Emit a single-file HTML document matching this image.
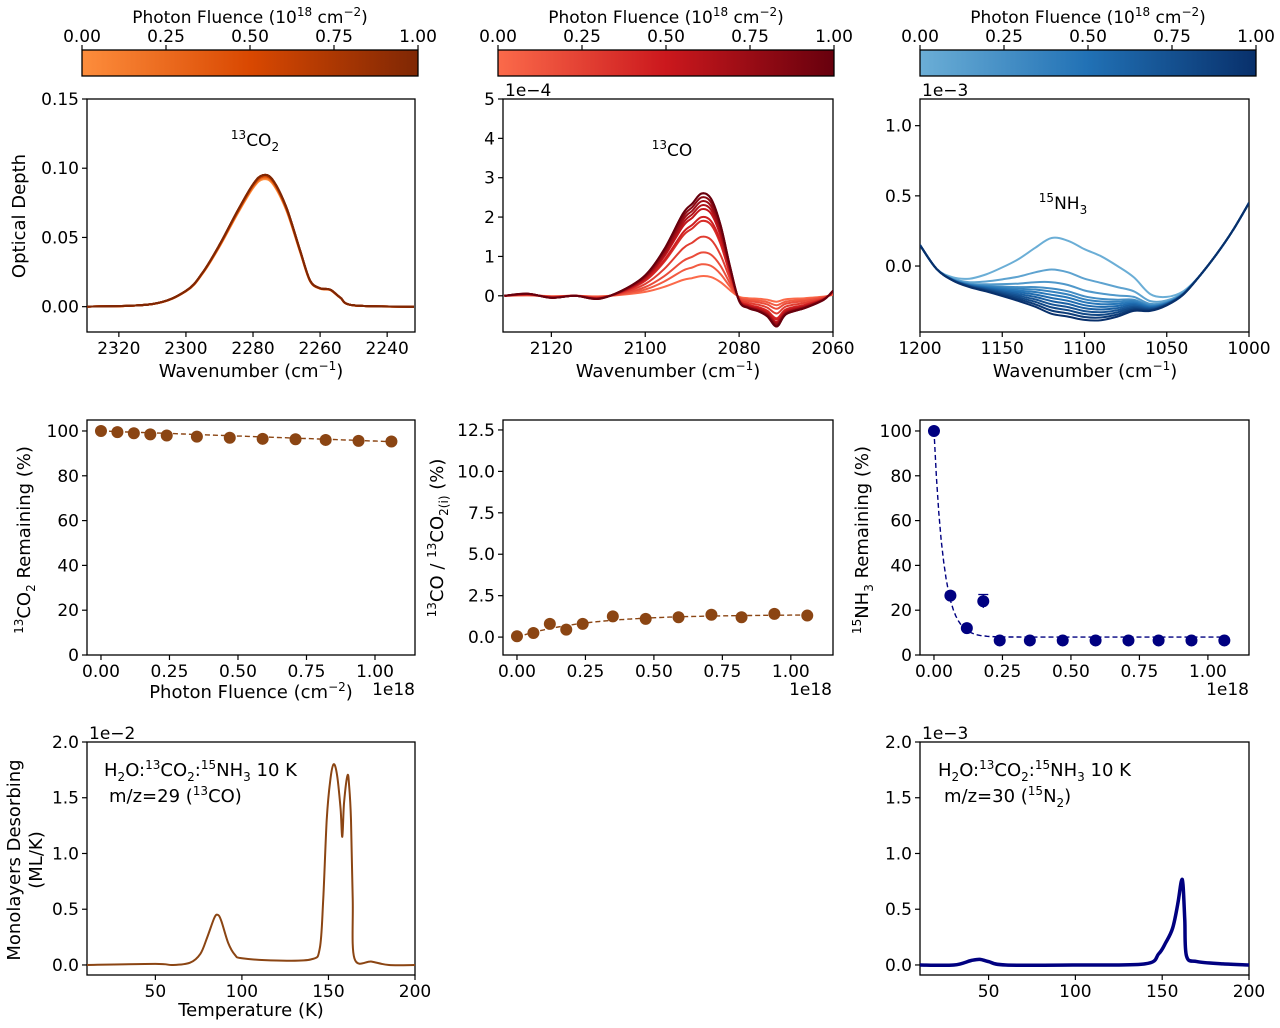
<!DOCTYPE html>
<html><head><meta charset="utf-8"><style>
html,body{margin:0;padding:0;background:#fff;}
svg{display:block;font-family:"DejaVu Sans","Liberation Sans",sans-serif;}
</style></head><body>
<svg id="fig" width="1280" height="1028" viewBox="0 0 1280 1028" xmlns="http://www.w3.org/2000/svg">
<defs>
<linearGradient id="gO" x1="0" x2="1" y1="0" y2="0"><stop offset="0" stop-color="#fd8d3c"/><stop offset="0.5" stop-color="#d94801"/><stop offset="1" stop-color="#7f2704"/></linearGradient>
<linearGradient id="gR" x1="0" x2="1" y1="0" y2="0"><stop offset="0" stop-color="#fb6a4a"/><stop offset="0.5" stop-color="#cb181d"/><stop offset="1" stop-color="#67000d"/></linearGradient>
<linearGradient id="gB" x1="0" x2="1" y1="0" y2="0"><stop offset="0" stop-color="#6baed6"/><stop offset="0.5" stop-color="#2171b5"/><stop offset="1" stop-color="#08306b"/></linearGradient>
</defs>
</svg>
<script>
// ---------- data ----------
const fluence = [0, 0.06, 0.12, 0.18, 0.24, 0.35, 0.47, 0.59, 0.71, 0.82, 0.94, 1.06];
const co2Remaining = [100, 99.5, 99, 98.5, 98, 97.5, 97, 96.5, 96.3, 96, 95.6, 95.3];
const coRatio = [0.05, 0.25, 0.8, 0.45, 0.8, 1.25, 1.1, 1.2, 1.35, 1.2, 1.4, 1.3];
const nh3Remaining = [100, 26.5, 12, 24, 6.5, 6.5, 6.5, 6.5, 6.5, 6.5, 6.5, 6.5];
const nh3Err = [0, 1.5, 1, 3, 0.5, 0.5, 0.5, 0.5, 0.5, 0.5, 0.5, 0.5];
const co2FitParams = [100, 4.5];        // start, linear drop over 1e18
const coFitParams = [1.35, 0.25];       // plateau, e-fold
const nh3FitParams = [92, 0.035, 8];    // amplitude, e-fold, plateau

const co2X = [2330, 2310, 2300, 2295, 2290, 2285, 2280, 2277, 2274, 2270, 2266, 2263, 2260, 2257, 2254, 2250, 2232];
const co2Shape = [0, 0.02, 0.12, 0.26, 0.47, 0.71, 0.93, 1.0, 0.96, 0.75, 0.43, 0.2, 0.14, 0.13, 0.07, 0.01, 0];
const co2Amp = [0.092, 0.093, 0.093, 0.094, 0.094, 0.094, 0.094, 0.095, 0.095, 0.095, 0.095, 0.095];

const coX = [2130, 2125, 2120, 2115, 2110, 2105, 2100, 2096, 2092, 2090, 2088, 2086, 2084, 2082, 2080, 2078, 2076, 2074, 2072, 2070, 2066, 2062, 2060];
const coShape = [0, 0.02, -0.02, 0, -0.03, 0.05, 0.2, 0.45, 0.8, 0.9, 1.0, 0.95, 0.7, 0.3, -0.05, -0.12, -0.15, -0.2, -0.3, -0.18, -0.12, -0.04, 0.05];
const coAmp = [0.5, 0.8, 1.1, 1.5, 1.9, 2.0, 2.2, 2.3, 2.4, 2.5, 2.6, 2.6];

const nhX = [1200, 1190, 1180, 1170, 1160, 1150, 1140, 1130, 1120, 1110, 1100, 1090, 1080, 1070, 1060, 1050, 1040, 1030, 1020, 1010, 1000];
const nhBase = [0.15, -0.02, -0.1, -0.14, -0.16, -0.18, -0.2, -0.22, -0.25, -0.27, -0.3, -0.31, -0.3, -0.28, -0.3, -0.27, -0.2, -0.07, 0.08, 0.25, 0.45];
const nhBump = [0, 0, 0.02, 0.05, 0.1, 0.17, 0.25, 0.35, 0.45, 0.45, 0.42, 0.38, 0.3, 0.2, 0.1, 0.05, 0.02, 0, 0, 0, 0];
const nhAmp = [1, 0.5, 0.3, 0.2, 0.15, 0.1, 0.05, 0, -0.05, -0.1, -0.15, -0.2];

const tpdCoT = [10, 50, 60, 70, 76, 80, 84, 86, 88, 92, 96, 100, 120, 140, 145, 147, 149, 151, 153, 155, 157, 158, 159, 161, 162, 163, 164, 165, 175, 185, 200];
const tpdCoV = [0, 0.01, 0, 0.02, 0.1, 0.25, 0.42, 0.45, 0.4, 0.2, 0.09, 0.06, 0.04, 0.05, 0.15, 0.6, 1.3, 1.65, 1.8, 1.7, 1.4, 1.15, 1.45, 1.7, 1.6, 1.3, 0.6, 0.06, 0.03, 0, 0];
const tpdN2T = [10, 30, 40, 45, 50, 60, 100, 140, 148, 152, 156, 159, 161, 162, 163, 164, 170, 185, 200];
const tpdN2V = [0, 0, 0.04, 0.05, 0.03, 0, 0, 0.01, 0.1, 0.2, 0.33, 0.55, 0.75, 0.72, 0.4, 0.08, 0.03, 0.01, 0];

const cbTicks = ["0.00", "0.25", "0.50", "0.75", "1.00"];

// ---------- helpers ----------
const svg = document.getElementById('fig');
const NS = 'http://www.w3.org/2000/svg';
function mk(tag, attrs, name, parent) {
  const e = document.createElementNS(NS, tag);
  for (const k in attrs) e.setAttribute(k, attrs[k]);
  
  
  (parent || svg).appendChild(e);
  return e;
}
function txt(x, y, html, name, opts) {
  opts = opts || {};
  const t = mk('text', {x: x, y: y, 'font-size': opts.size || 17, 'text-anchor': opts.anchor || 'middle', fill: '#000'}, name);
  if (opts.rot) t.setAttribute('transform', 'rotate(-90 ' + x + ' ' + y + ')');
  t.innerHTML = html;
  return t;
}
function scale(d0, d1, r0, r1) { return v => r0 + (v - d0) / (d1 - d0) * (r1 - r0); }
function smoothPath(pts) {
  let d = 'M' + pts[0][0].toFixed(1) + ',' + pts[0][1].toFixed(1);
  for (let i = 0; i < pts.length - 1; i++) {
    const p0 = pts[Math.max(0, i - 1)], p1 = pts[i], p2 = pts[i + 1], p3 = pts[Math.min(pts.length - 1, i + 2)];
    const c1 = [p1[0] + (p2[0] - p0[0]) / 6, p1[1] + (p2[1] - p0[1]) / 6];
    const c2 = [p2[0] - (p3[0] - p1[0]) / 6, p2[1] - (p3[1] - p1[1]) / 6];
    d += 'C' + c1[0].toFixed(1) + ',' + c1[1].toFixed(1) + ' ' + c2[0].toFixed(1) + ',' + c2[1].toFixed(1) + ' ' + p2[0].toFixed(1) + ',' + p2[1].toFixed(1);
  }
  return d;
}
function lerpColor(a, b, t) {
  const pa = [1, 3, 5].map(i => parseInt(a.substr(i, 2), 16));
  const pb = [1, 3, 5].map(i => parseInt(b.substr(i, 2), 16));
  return 'rgb(' + pa.map((v, i) => Math.round(v + (pb[i] - v) * t)).join(',') + ')';
}
function cmap(stops, t) {
  if (t <= 0.5) return lerpColor(stops[0], stops[1], t * 2);
  return lerpColor(stops[1], stops[2], (t - 0.5) * 2);
}
function panel(p) {
  const sx = scale(p.xd[0], p.xd[1], p.x0, p.x1);
  const sy = scale(p.yd[0], p.yd[1], p.y1, p.y0);
  const g = mk('g', {}, p.name + '-axes');
  p.xt.forEach((v, i) => {
    const X = sx(v);
    mk('line', {x1: X, x2: X, y1: p.y1, y2: p.y1 + 5, stroke: '#000', 'stroke-width': 1.2}, 'x-tick', g);
    txt(X, p.y1 + 22, p.xl[i], 'x-tick-label');
  });
  p.yt.forEach((v, i) => {
    const Y = sy(v);
    mk('line', {x1: p.x0 - 5, x2: p.x0, y1: Y, y2: Y, stroke: '#000', 'stroke-width': 1.2}, 'y-tick', g);
    txt(p.x0 - 8, Y + 6, p.yl[i], 'y-tick-label', {anchor: 'end'});
  });
  mk('rect', {x: p.x0, y: p.y0, width: p.x1 - p.x0, height: p.y1 - p.y0, fill: 'none', stroke: '#000', 'stroke-width': 1.3}, p.name + '-frame');
  const clip = mk('clipPath', {id: 'c-' + p.name}, 'clip');
  mk('rect', {x: p.x0, y: p.y0, width: p.x1 - p.x0, height: p.y1 - p.y0}, 'clip-rect', clip);
  const plot = mk('g', {'clip-path': 'url(#c-' + p.name + ')'}, p.name + '-plot');
  return {sx, sy, plot};
}
function colorbar(x0, x1, grad, name) {
  mk('rect', {x: x0, y: 50, width: x1 - x0, height: 26, fill: 'url(#' + grad + ')', stroke: '#000', 'stroke-width': 1.3}, name);
  const s = scale(0, 1, x0, x1);
  cbTicks.forEach((lab, i) => {
    const X = s(i / 4);
    mk('line', {x1: X, x2: X, y1: 45, y2: 50, stroke: '#000', 'stroke-width': 1.2}, 'colorbar-tick');
    txt(X, 42, lab, 'colorbar-tick-label');
  });
  txt((x0 + x1) / 2, 23, 'Photon Fluence (10<tspan dy="-7" font-size="12">18</tspan><tspan dy="7"> cm</tspan><tspan dy="-7" font-size="12">−2</tspan><tspan dy="7">)</tspan>', 'colorbar-title');
}

// ---------- colorbars ----------
colorbar(82, 418, 'gO', 'colorbar-orange');
colorbar(498, 834, 'gR', 'colorbar-red');
colorbar(920, 1256, 'gB', 'colorbar-blue');
const orangeStops = ['#fd8d3c', '#d94801', '#7f2704'];
const redStops = ['#fb6a4a', '#cb181d', '#67000d'];
const blueStops = ['#6baed6', '#2171b5', '#08306b'];

// ---------- panel A: CO2 spectra ----------
let A = panel({name: 'co2-spectrum', x0: 87, x1: 415, y0: 99, y1: 332, xd: [2329.5, 2231.7], yd: [-0.0183, 0.15],
  xt: [2320, 2300, 2280, 2260, 2240], xl: ['2320', '2300', '2280', '2260', '2240'],
  yt: [0, 0.05, 0.1, 0.15], yl: ['0.00', '0.05', '0.10', '0.15']});
co2Amp.forEach((a, k) => {
  const pts = co2X.map((x, i) => [A.sx(x), A.sy(a * co2Shape[i])]);
  mk('path', {d: smoothPath(pts), fill: 'none', stroke: cmap(orangeStops, k / (co2Amp.length - 1)), 'stroke-width': 2}, 'co2-spectrum-line', A.plot);
});
txt(255, 146, '<tspan dy="-7" font-size="12">13</tspan><tspan dy="7">CO</tspan><tspan dy="5" font-size="12">2</tspan>', 'co2-band-label');
txt(25, 216, 'Optical Depth', 'y-axis-title', {rot: true, size: 18});
txt(251, 377, 'Wavenumber (cm<tspan dy="-7" font-size="12">−1</tspan><tspan dy="7">)</tspan>', 'x-axis-title', {size: 18});

// ---------- panel B: CO spectra ----------
let B = panel({name: 'co-spectrum', x0: 503, x1: 833, y0: 99, y1: 332, xd: [2130.3, 2060], yd: [-0.92, 5],
  xt: [2120, 2100, 2080, 2060], xl: ['2120', '2100', '2080', '2060'],
  yt: [0, 1, 2, 3, 4, 5], yl: ['0', '1', '2', '3', '4', '5']});
coAmp.forEach((a, k) => {
  const pts = coX.map((x, i) => [B.sx(x), B.sy(a * coShape[i])]);
  mk('path', {d: smoothPath(pts), fill: 'none', stroke: cmap(redStops, k / (coAmp.length - 1)), 'stroke-width': 2}, 'co-spectrum-line', B.plot);
});
txt(505, 96, '1e−4', 'y-offset-text', {anchor: 'start'});
txt(672, 156, '<tspan dy="-7" font-size="12">13</tspan><tspan dy="7">CO</tspan>', 'co-band-label');
txt(668, 377, 'Wavenumber (cm<tspan dy="-7" font-size="12">−1</tspan><tspan dy="7">)</tspan>', 'x-axis-title', {size: 18});

// ---------- panel C: NH3 spectra ----------
let C = panel({name: 'nh3-spectrum', x0: 920, x1: 1249, y0: 99, y1: 332, xd: [1200, 1000], yd: [-0.47, 1.19],
  xt: [1200, 1150, 1100, 1050, 1000], xl: ['1200', '1150', '1100', '1050', '1000'],
  yt: [0, 0.5, 1.0], yl: ['0.0', '0.5', '1.0']});
nhAmp.forEach((a, k) => {
  const pts = nhX.map((x, i) => [C.sx(x), C.sy(nhBase[i] + a * nhBump[i])]);
  mk('path', {d: smoothPath(pts), fill: 'none', stroke: cmap(blueStops, k / (nhAmp.length - 1)), 'stroke-width': 2}, 'nh3-spectrum-line', C.plot);
});
txt(922, 96, '1e−3', 'y-offset-text', {anchor: 'start'});
txt(1063, 209, '<tspan dy="-7" font-size="12">15</tspan><tspan dy="7">NH</tspan><tspan dy="5" font-size="12">3</tspan>', 'nh3-band-label');
txt(1085, 377, 'Wavenumber (cm<tspan dy="-7" font-size="12">−1</tspan><tspan dy="7">)</tspan>', 'x-axis-title', {size: 18});

// ---------- row 2 ----------
function scatterPanel(P, ys, color, fitFn, name) {
  const fp = [];
  for (let i = 0; i <= 120; i++) { const x = i / 120 * 1.06; fp.push([P.sx(x), P.sy(fitFn(x))]); }
  mk('path', {d: 'M' + fp.map(p => p[0].toFixed(1) + ',' + p[1].toFixed(1)).join('L'), fill: 'none', stroke: color, 'stroke-width': 1.4, 'stroke-dasharray': '5,3'}, name + '-fit', P.plot);
  ys.forEach((v, i) => {
    mk('circle', {cx: P.sx(fluence[i]), cy: P.sy(v), r: 6, fill: color}, name + '-point', P.plot);
  });
}
let D = panel({name: 'co2-remaining', x0: 87, x1: 415, y0: 420, y1: 655, xd: [-0.051, 1.146], yd: [0, 104.9],
  xt: [0, 0.25, 0.5, 0.75, 1.0], xl: ['0.00', '0.25', '0.50', '0.75', '1.00'],
  yt: [0, 20, 40, 60, 80, 100], yl: ['0', '20', '40', '60', '80', '100']});
scatterPanel(D, co2Remaining, '#8b4513', x => co2FitParams[0] - co2FitParams[1] * x, 'co2');
txt(30, 540, '<tspan dy="-7" font-size="12">13</tspan><tspan dy="7">CO</tspan><tspan dy="5" font-size="12">2</tspan><tspan dy="-5"> Remaining (%)</tspan>', 'y-axis-title', {rot: true, size: 18});
txt(251, 698, 'Photon Fluence (cm<tspan dy="-7" font-size="12">−2</tspan><tspan dy="7">)</tspan>', 'x-axis-title', {size: 18});
txt(415, 695, '1e18', 'x-offset-text', {anchor: 'end'});

let E = panel({name: 'co-ratio', x0: 503, x1: 833, y0: 420, y1: 655, xd: [-0.051, 1.154], yd: [-1.08, 13.1],
  xt: [0, 0.25, 0.5, 0.75, 1.0], xl: ['0.00', '0.25', '0.50', '0.75', '1.00'],
  yt: [0, 2.5, 5, 7.5, 10, 12.5], yl: ['0.0', '2.5', '5.0', '7.5', '10.0', '12.5']});
scatterPanel(E, coRatio, '#8b4513', x => coFitParams[0] * (1 - Math.exp(-x / coFitParams[1])), 'co');
txt(443, 538, '<tspan dy="-7" font-size="12">13</tspan><tspan dy="7">CO / </tspan><tspan dy="-7" font-size="12">13</tspan><tspan dy="7">CO</tspan><tspan dy="5" font-size="12">2(i)</tspan><tspan dy="-5"> (%)</tspan>', 'y-axis-title', {rot: true, size: 18});
txt(832, 695, '1e18', 'x-offset-text', {anchor: 'end'});

let F = panel({name: 'nh3-remaining', x0: 920, x1: 1249, y0: 420, y1: 655, xd: [-0.051, 1.15], yd: [0, 104.9],
  xt: [0, 0.25, 0.5, 0.75, 1.0], xl: ['0.00', '0.25', '0.50', '0.75', '1.00'],
  yt: [0, 20, 40, 60, 80, 100], yl: ['0', '20', '40', '60', '80', '100']});
nh3Remaining.forEach((v, i) => {
  const X = F.sx(fluence[i]);
  mk('line', {x1: X, x2: X, y1: F.sy(v - nh3Err[i]), y2: F.sy(v + nh3Err[i]), stroke: '#000080', 'stroke-width': 1.3}, 'nh3-error-bar', F.plot);
  mk('line', {x1: X - 5, x2: X + 5, y1: F.sy(v + nh3Err[i]), y2: F.sy(v + nh3Err[i]), stroke: '#000080', 'stroke-width': 1.3}, 'nh3-error-cap', F.plot);
});
scatterPanel(F, nh3Remaining, '#000080', x => nh3FitParams[0] * Math.exp(-x / nh3FitParams[1]) + nh3FitParams[2], 'nh3');
txt(868, 540, '<tspan dy="-7" font-size="12">15</tspan><tspan dy="7">NH</tspan><tspan dy="5" font-size="12">3</tspan><tspan dy="-5"> Remaining (%)</tspan>', 'y-axis-title', {rot: true, size: 18});
txt(1249, 695, '1e18', 'x-offset-text', {anchor: 'end'});

// ---------- row 3: TPD ----------
let G = panel({name: 'tpd-co', x0: 87, x1: 415, y0: 742, y1: 975, xd: [10.5, 200], yd: [-0.09, 2.0],
  xt: [50, 100, 150, 200], xl: ['50', '100', '150', '200'],
  yt: [0, 0.5, 1.0, 1.5, 2.0], yl: ['0.0', '0.5', '1.0', '1.5', '2.0']});
mk('path', {d: smoothPath(tpdCoT.map((t, i) => [G.sx(t), G.sy(tpdCoV[i])])), fill: 'none', stroke: '#8b4513', 'stroke-width': 2}, 'tpd-co-line', G.plot);
txt(89, 739, '1e−2', 'y-offset-text', {anchor: 'start'});
txt(104, 776, 'H<tspan dy="5" font-size="12">2</tspan><tspan dy="-5">O:</tspan><tspan dy="-7" font-size="12">13</tspan><tspan dy="7">CO</tspan><tspan dy="5" font-size="12">2</tspan><tspan dy="-5">:</tspan><tspan dy="-7" font-size="12">15</tspan><tspan dy="7">NH</tspan><tspan dy="5" font-size="12">3</tspan><tspan dy="-5"> 10 K</tspan>', 'tpd-co-annotation', {anchor: 'start', size: 18});
txt(109, 802, 'm/z=29 (<tspan dy="-7" font-size="12">13</tspan><tspan dy="7">CO)</tspan>', 'tpd-co-mz-label', {anchor: 'start', size: 18});
txt(20, 860, 'Monolayers Desorbing', 'y-axis-title', {rot: true, size: 18});
txt(42, 860, '(ML/K)', 'y-axis-title-units', {rot: true, size: 18});
txt(251, 1016, 'Temperature (K)', 'x-axis-title', {size: 18});

let H = panel({name: 'tpd-n2', x0: 920, x1: 1249, y0: 742, y1: 975, xd: [10.5, 200], yd: [-0.09, 2.0],
  xt: [50, 100, 150, 200], xl: ['50', '100', '150', '200'],
  yt: [0, 0.5, 1.0, 1.5, 2.0], yl: ['0.0', '0.5', '1.0', '1.5', '2.0']});
mk('path', {d: smoothPath(tpdN2T.map((t, i) => [H.sx(t), H.sy(tpdN2V[i])])), fill: 'none', stroke: '#000080', 'stroke-width': 3.5}, 'tpd-n2-line', H.plot);
txt(922, 739, '1e−3', 'y-offset-text', {anchor: 'start'});
txt(938, 776, 'H<tspan dy="5" font-size="12">2</tspan><tspan dy="-5">O:</tspan><tspan dy="-7" font-size="12">13</tspan><tspan dy="7">CO</tspan><tspan dy="5" font-size="12">2</tspan><tspan dy="-5">:</tspan><tspan dy="-7" font-size="12">15</tspan><tspan dy="7">NH</tspan><tspan dy="5" font-size="12">3</tspan><tspan dy="-5"> 10 K</tspan>', 'tpd-n2-annotation', {anchor: 'start', size: 18});
txt(944, 802, 'm/z=30 (<tspan dy="-7" font-size="12">15</tspan><tspan dy="7">N</tspan><tspan dy="5" font-size="12">2</tspan><tspan dy="-5">)</tspan>', 'tpd-n2-mz-label', {anchor: 'start', size: 18});
</script>
</body></html>
